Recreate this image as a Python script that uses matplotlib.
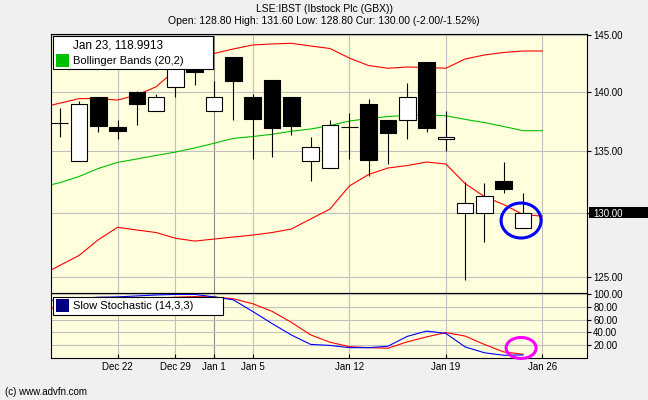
import matplotlib
matplotlib.use('Agg')
import matplotlib.pyplot as plt
from matplotlib.patches import Rectangle, Ellipse
from matplotlib.transforms import IdentityTransform
from matplotlib.ticker import FixedLocator, NullLocator, FormatStrFormatter
import numpy as np

plt.rcParams['font.family'] = ['Liberation Sans', 'DejaVu Sans']

# daily candles, Dec 19 .. Jan 23 (trading-day index 0..24)
opens = [137.35, 134.20, 139.54, 137.00, 139.97, 138.38, 140.40, 142.60, 138.38, 143.00,
         139.54, 141.03, 139.54, 134.18, 133.60, 137.00, 138.97, 137.62, 137.59, 142.57,
         136.00, 129.97, 129.97, 132.54, 128.80]
highs = [138.60, 139.20, 139.60, 137.62, 140.10, 139.80, 142.60, 143.00, 140.97, 143.00,
         139.80, 141.03, 139.54, 136.16, 137.62, 138.18, 139.40, 137.62, 140.75, 142.57,
         138.38, 132.51, 132.38, 134.15, 131.60]
lows = [136.16, 134.20, 136.60, 136.00, 137.20, 138.38, 139.54, 140.60, 138.38, 137.62,
        134.37, 134.56, 136.33, 132.57, 133.60, 134.37, 132.97, 133.93, 136.00, 136.58,
        135.03, 124.76, 127.73, 131.57, 128.80]
closes = [137.35, 138.97, 137.14, 136.72, 138.97, 139.54, 142.20, 141.75, 139.54, 140.97,
          137.73, 136.97, 137.14, 135.33, 137.17, 137.00, 134.31, 136.55, 139.54, 136.97,
          136.16, 130.77, 131.35, 131.94, 130.00]

# Bollinger bands (20,2), drawn from index -1 to 25
bb_upper = [138.64, 139.04, 139.43, 139.44, 139.31, 139.74, 140.45, 141.90, 142.77, 143.34,
            143.74, 144.09, 144.18, 144.24, 144.00, 143.78, 142.94, 142.29, 142.05, 142.16,
            142.12, 142.05, 142.86, 143.21, 143.43, 143.56, 143.56]
bb_middle = [132.06, 132.43, 132.93, 133.59, 134.09, 134.37, 134.66, 134.94, 135.28, 135.67,
             136.08, 136.23, 136.42, 136.67, 136.86, 137.15, 137.53, 137.74, 137.91, 138.01,
             138.04, 137.98, 137.67, 137.40, 137.07, 136.72, 136.72]
bb_lower = [125.10, 125.88, 126.65, 127.88, 128.86, 128.65, 128.45, 128.00, 127.78, 127.94,
            128.10, 128.25, 128.45, 128.73, 129.52, 130.31, 132.16, 133.10, 133.63, 133.83,
            134.12, 133.96, 132.36, 131.31, 130.67, 129.87, 129.75]

# slow stochastic (14,3,3), index -1 to 24
stoch_k = [89.5, 91.0, 93.0, 95.0, 95.5, 97.0, 98.5, 99.4, 99.4, 95.5, 90.9, 72.7, 53.9,
           36.0, 21.3, 19.7, 16.2, 16.2, 18.4, 33.8, 42.1, 38.5, 17.3, 8.2, 4.3, 4.8]
stoch_d = [75.4, 79.0, 83.0, 86.5, 89.5, 91.5, 93.5, 95.0, 96.0, 95.3, 92.6, 84.8, 73.0,
           55.8, 36.2, 24.7, 17.8, 16.1, 15.3, 25.2, 33.0, 39.8, 34.3, 21.1, 9.5, 5.9]

tick_idx = [3, 6, 8, 10, 15, 20, 25]
tick_labels = ['Dec 22', 'Dec 29', 'Jan 1', 'Jan 5', 'Jan 12', 'Jan 19', 'Jan 26']
price_ticks = [125, 130, 135, 140, 145]
stoch_ticks = [20, 40, 60, 80, 100]

W, H = 648, 400
fig = plt.figure(figsize=(6.48, 4.0), dpi=100, facecolor='#f0f0f0')


def box(x0, y0, x1, y1):
    return [x0 / W, 1 - y1 / H, (x1 - x0) / W, (y1 - y0) / H]


ax = fig.add_axes(box(51, 33.5, 587, 293))
ax2 = fig.add_axes(box(51, 293, 587, 357.7), sharex=ax)
for a in (ax, ax2):
    a.set_facecolor('#ffffdd')
    a.set_axisbelow(True)
    a.grid(True, color='#c0c0c0', lw=0.8)
    for s in a.spines.values():
        s.set_linewidth(0.8)

x = np.arange(len(opens))
band_x = np.arange(-1, len(opens) + 1)
stoch_x = np.arange(-1, len(opens))

ax.plot(band_x, bb_upper, color='#ff0000', lw=0.8)
ax.plot(band_x, bb_lower, color='#ff0000', lw=0.8)
ax.plot(band_x, bb_middle, color='#00c000', lw=0.8)

o = np.array(opens)
c = np.array(closes)
body_col = ['white' if cc >= oo else 'black' for oo, cc in zip(o, c)]
ax.vlines(x, lows, highs, color='black', lw=0.8, zorder=3)
ax.bar(x, np.abs(c - o), bottom=np.minimum(o, c), width=0.86, color=body_col,
       edgecolor='black', linewidth=0.8, zorder=4)

ax.set_yscale('log')
ax.set_xlim(-0.445, 27.31)
ax.set_ylim(123.78, 145.107)
ax.yaxis.set_major_locator(FixedLocator(price_ticks))
ax.yaxis.set_major_formatter(FormatStrFormatter('%.2f'))
ax.yaxis.set_minor_locator(NullLocator())
ax.tick_params(axis='y', left=False, right=True, labelleft=False, labelright=True,
               direction='out', length=3, width=0.8, labelsize=7, pad=1.5)
ax.tick_params(axis='x', bottom=False, labelbottom=False)

ax2.plot(stoch_x, stoch_d, color='#ff0000', lw=0.8)
ax2.plot(stoch_x, stoch_k, color='#0000ff', lw=0.8)
ax2.set_ylim(0.5, 101.6)
ax2.yaxis.set_major_locator(FixedLocator(stoch_ticks))
ax2.yaxis.set_major_formatter(FormatStrFormatter('%.2f'))
ax2.tick_params(axis='y', left=False, right=True, labelleft=False, labelright=True,
                direction='out', length=3, width=0.8, labelsize=7, pad=1.5)
ax2.set_xticks(tick_idx)
ax2.set_xticklabels(tick_labels)
ax2.tick_params(axis='x', direction='in', length=3, width=0.8, labelsize=7, pad=3)

# year boundary gridline is darker
for a in (ax, ax2):
    a.get_xgridlines()[tick_labels.index('Jan 1')].set_color('#8c8c8c')

# current price marker on the right axis (below the tick labels, which sit at zorder 0.5)
yd = ax.transData.transform((0, closes[-1]))[1]
ax.add_patch(Rectangle((589, yd - 5.5), 60, 11, transform=IdentityTransform(),
                       facecolor='black', edgecolor='none', clip_on=False, zorder=0.3))
ax.yaxis.get_major_ticks()[price_ticks.index(130)].label2.set_color('white')

# highlight circles
cx, cy = ax.transData.transform((x[-1], (opens[-1] + closes[-1]) / 2))
ax.add_patch(Ellipse((cx - 2, cy), 40, 35, transform=IdentityTransform(), fill=False,
                     edgecolor='#0000ff', lw=2.2, zorder=6))
sx, sy = ax2.transData.transform((x[-1], stoch_k[-1]))
ax2.add_patch(Ellipse((sx - 2, sy + 7), 30, 21, transform=IdentityTransform(), fill=False,
                      edgecolor='#ff00ff', lw=2.2, zorder=6, clip_on=False))

# legends
fig.add_artist(Rectangle((53.3 / W, 1 - 69 / H), 160 / W, 33 / H, transform=fig.transFigure,
                         facecolor='white', edgecolor='black', lw=0.8))
fig.add_artist(Rectangle((55.5 / W, 1 - 67 / H), 13 / W, 13 / H, transform=fig.transFigure,
                         facecolor='#00c000', edgecolor='none'))
fig.text(73 / W, 1 - 45.5 / H, 'Jan 23, 118.9913', fontsize=8.5, va='center')
fig.text(73.3 / W, 1 - 61.5 / H, 'Bollinger Bands (20,2)', fontsize=8, va='center')

fig.add_artist(Rectangle((53.3 / W, 1 - 314.5 / H), 169.4 / W, 18 / H, transform=fig.transFigure,
                         facecolor='white', edgecolor='black', lw=0.8))
fig.add_artist(Rectangle((55.7 / W, 1 - 312 / H), 13.3 / W, 13 / H, transform=fig.transFigure,
                         facecolor='#000080', edgecolor='none'))
fig.text(73.3 / W, 1 - 306 / H, 'Slow Stochastic (14,3,3)', fontsize=8, va='center')

fig.text(0.5, 1 - 8.5 / H, 'LSE:IBST (Ibstock Plc (GBX))', ha='center', va='center', fontsize=7.5)
fig.text(0.5, 1 - 21 / H, 'Open: 128.80 High: 131.60 Low: 128.80 Cur: 130.00 (-2.00/-1.52%)',
         ha='center', va='center', fontsize=7.5)
fig.text(5 / W, 1 - 392 / H, '(c) www.advfn.com', va='center', fontsize=7)

fig.savefig('out.png', dpi=100, facecolor=fig.get_facecolor())
